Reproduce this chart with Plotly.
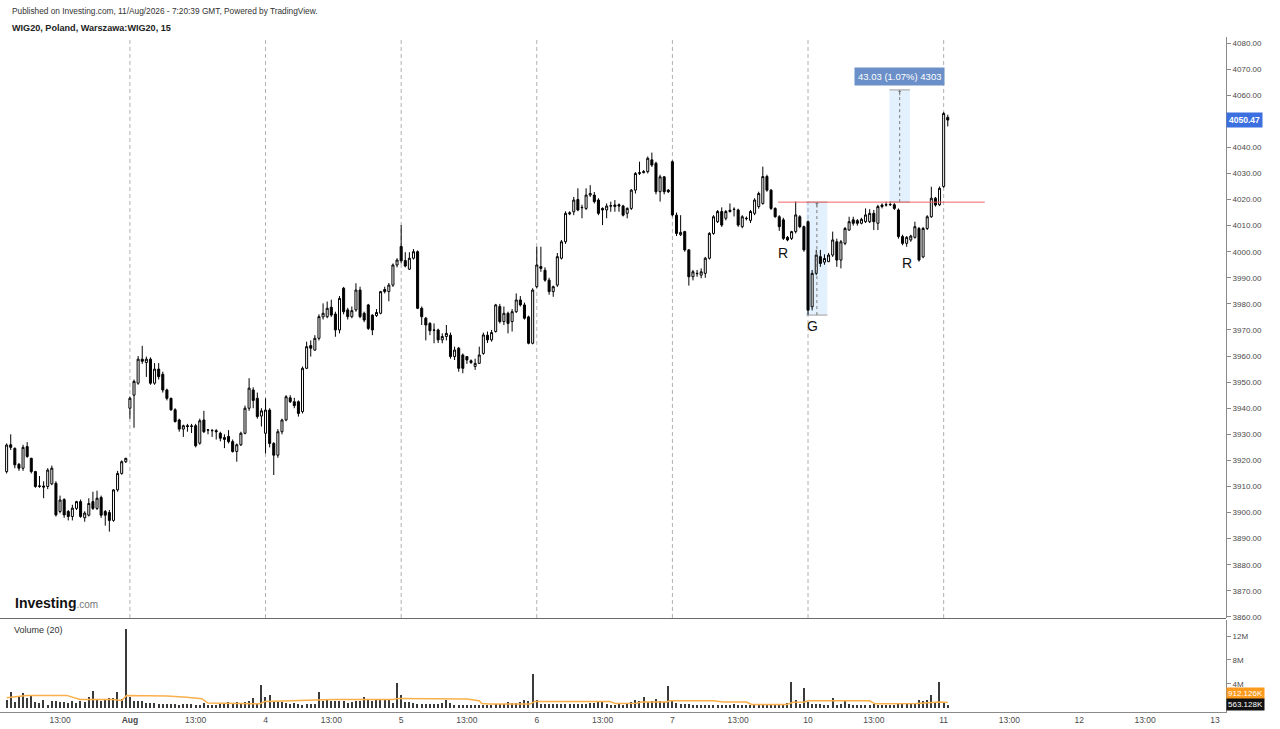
import plotly.graph_objects as go

# 15 minute bars, 33 per session, bar 0 = 31 Jul 09:00
bar = list(range(3, 233))

opens = [3915.7, 3926.0, 3924.6, 3918.5, 3917.0, 3925.3, 3920.8, 3915.7, 3910.0, 3910.2,
         3910.0, 3911.0, 3911.2, 3900.4, 3905.0, 3900.4, 3898.5, 3901.6, 3904.2, 3898.0,
         3899.0, 3904.2, 3901.6, 3905.8, 3900.4, 3900.0, 3897.0, 3908.7, 3915.0, 3919.5,
         3940.0, 3945.0, 3949.6, 3958.8, 3957.5, 3958.8, 3949.6, 3955.0, 3953.0, 3947.0,
         3943.8, 3939.4, 3935.5, 3932.0, 3933.3, 3933.0, 3933.3, 3926.6, 3935.5, 3931.6,
         3931.5, 3931.4, 3930.4, 3928.0, 3929.2, 3927.2, 3923.4, 3926.0, 3930.4, 3940.0,
         3947.0, 3943.8, 3937.0,
         3930.4, 3939.3, 3926.5, 3922.0, 3931.0, 3935.5, 3944.0, 3942.5, 3942.5, 3938.7,
         3955.3, 3964.0, 3962.3, 3966.8, 3975.0, 3975.1, 3978.7, 3976.1, 3970.0, 3986.0,
         3977.7, 3975.1, 3977.7, 3985.3, 3976.4, 3979.6, 3975.7, 3975.5, 3976.4, 3985.5,
         3984.7, 3987.2, 3994.9,
         4002.0, 3996.6, 3993.3, 3997.5, 4000.0, 3978.3, 3974.5, 3972.5, 3970.0, 3970.0,
         3966.2, 3967.5, 3968.0, 3959.8, 3963.0, 3960.4, 3959.8, 3958.2, 3956.0, 3957.2,
         3961.0, 3968.0, 3966.2, 3969.4, 3979.0, 3973.2, 3976.4, 3973.2, 3977.0, 3981.5,
         3979.6, 3975.0, 3964.9,
         3986.6, 3994.3, 3992.9, 3989.1, 3984.7, 3987.2, 3997.5, 4003.8, 4014.5, 4015.3,
         4020.0, 4017.0, 4016.6, 4021.7, 4021.7, 4019.8, 4016.6, 4016.0, 4017.5, 4017.3,
         4018.0, 4017.5, 4014.7, 4016.6, 4023.6, 4030.0, 4030.3, 4030.7, 4035.2, 4033.9,
         4023.0, 4028.7, 4023.6,
         4034.5, 4014.0, 4006.5, 4007.7, 4000.7, 3990.4, 3991.7, 3991.0, 3991.7, 3997.5,
         4007.0, 4011.5, 4015.4, 4012.8, 4015.4, 4016.3, 4016.0, 4009.6, 4012.8, 4012.0,
         4014.7, 4017.3, 4018.5, 4028.8, 4023.6, 4016.6, 4013.4, 4012.2, 4005.5, 4005.1,
         4007.7, 4013.4, 4009.6,
         4011.5, 3978.9, 3991.7, 3998.1, 3996.0, 3996.2, 3998.7, 4003.8, 3996.8, 4003.2,
         4008.3, 4012.2, 4011.9, 4010.9, 4011.5, 4011.5, 4014.7, 4010.9, 4017.3, 4017.9,
         4018.0, 4018.0, 4016.0, 4005.8, 4003.2, 4004.5, 4005.5, 4008.9, 3998.0, 4008.9,
         4013.4, 4020.5, 4018.0,
         4025.0, 4051.5]
highs = [3926.5, 3930.0, 3925.0, 3919.0, 3926.0, 3927.0, 3921.0, 3916.0, 3914.0, 3912.0,
         3917.0, 3918.0, 3912.0, 3906.5, 3905.5, 3901.0, 3903.0, 3904.5, 3905.0, 3900.5,
         3905.5, 3908.0, 3908.4, 3906.5, 3901.0, 3901.0, 3909.0, 3916.0, 3920.0, 3921.0,
         3944.5, 3951.0, 3960.0, 3963.9, 3959.8, 3959.5, 3957.3, 3957.3, 3954.0, 3947.5,
         3944.0, 3940.0, 3936.0, 3933.7, 3934.0, 3934.0, 3934.0, 3936.0, 3939.0, 3932.0,
         3932.0, 3932.0, 3931.0, 3930.0, 3931.6, 3928.0, 3926.5, 3931.0, 3941.0, 3951.5,
         3948.0, 3946.0, 3940.0,
         3943.8, 3940.0, 3927.0, 3932.0, 3936.0, 3945.0, 3945.0, 3944.0, 3943.0, 3956.0,
         3965.5, 3966.0, 3968.0, 3976.0, 3980.2, 3980.9, 3981.6, 3977.0, 3983.0, 3986.5,
         3978.5, 3979.0, 3987.9, 3986.6, 3977.0, 3980.0, 3976.0, 3978.0, 3985.0, 3986.6,
         3988.0, 3995.5, 3997.5,
         4010.2, 3999.8, 3999.8, 4001.0, 4000.5, 3979.0, 3975.0, 3973.0, 3972.5, 3970.5,
         3968.7, 3971.9, 3969.0, 3963.6, 3963.5, 3961.0, 3960.0, 3958.7, 3959.0, 3963.6,
         3969.0, 3969.4, 3970.0, 3980.0, 3980.0, 3979.0, 3977.0, 3978.0, 3984.0, 3983.0,
         3980.5, 3975.5, 3986.0,
         4001.9, 4001.9, 3994.0, 3990.0, 3987.0, 3999.5, 4004.5, 4015.5, 4015.5, 4021.0,
         4024.3, 4018.0, 4024.3, 4025.5, 4022.9, 4020.5, 4017.0, 4018.5, 4019.2, 4019.8,
         4018.5, 4018.0, 4017.0, 4024.0, 4030.5, 4034.5, 4031.3, 4036.5, 4038.0, 4034.5,
         4029.5, 4029.0, 4024.0,
         4035.0, 4015.0, 4014.0, 4008.0, 4001.0, 3993.0, 3993.0, 3993.6, 3998.0, 4007.5,
         4014.0, 4016.0, 4017.0, 4016.0, 4018.5, 4017.0, 4016.5, 4014.0, 4013.5, 4016.0,
         4020.5, 4023.0, 4032.6, 4029.5, 4024.0, 4017.0, 4014.0, 4013.0, 4006.0, 4008.0,
         4019.2, 4014.0, 4010.0,
         4012.0, 3993.0, 4000.7, 4000.7, 3999.0, 3999.5, 4007.7, 4005.0, 4004.5, 4009.5,
         4013.4, 4013.4, 4012.5, 4013.0, 4016.6, 4016.3, 4016.0, 4018.0, 4018.5, 4019.2,
         4019.2, 4018.6, 4016.6, 4006.5, 4006.0, 4006.5, 4011.5, 4009.5, 4009.5, 4014.0,
         4024.9, 4021.0, 4025.0,
         4053.5, 4052.5]
lows = [3915.0, 3924.0, 3917.0, 3916.0, 3916.0, 3921.0, 3915.0, 3909.5, 3909.5, 3905.5,
        3909.0, 3910.5, 3898.5, 3899.7, 3898.0, 3897.0, 3897.0, 3901.0, 3898.0, 3896.5,
        3898.5, 3901.0, 3901.0, 3898.0, 3895.0, 3892.7, 3896.5, 3908.0, 3914.5, 3919.0,
        3936.0, 3932.5, 3949.0, 3957.0, 3952.0, 3949.0, 3949.0, 3951.0, 3946.0, 3943.0,
        3939.0, 3934.5, 3931.0, 3929.0, 3931.0, 3930.5, 3925.0, 3926.0, 3930.5, 3930.0,
        3929.0, 3928.0, 3927.3, 3924.7, 3926.5, 3923.0, 3919.5, 3925.5, 3930.0, 3939.0,
        3940.0, 3936.0, 3933.0,
        3922.7, 3925.0, 3914.4, 3921.0, 3930.0, 3935.0, 3942.0, 3940.0, 3936.8, 3938.0,
        3955.0, 3959.8, 3962.0, 3966.0, 3974.0, 3974.5, 3975.0, 3967.4, 3968.7, 3976.0,
        3974.0, 3974.5, 3977.0, 3974.5, 3973.0, 3970.0, 3968.0, 3975.0, 3976.0, 3984.0,
        3981.0, 3986.5, 3994.0,
        3995.5, 3994.0, 3993.0, 3997.0, 3978.0, 3971.9, 3966.0, 3968.0, 3964.9, 3965.0,
        3964.9, 3966.0, 3959.0, 3958.5, 3954.0, 3953.4, 3957.0, 3957.0, 3954.7, 3957.0,
        3960.5, 3965.0, 3965.5, 3969.0, 3972.5, 3971.9, 3968.7, 3969.4, 3976.5, 3979.0,
        3974.0, 3964.5, 3964.5,
        3986.0, 3992.3, 3988.5, 3983.5, 3982.7, 3986.5, 3997.0, 4003.0, 4014.0, 4014.0,
        4015.5, 4012.8, 4016.0, 4021.0, 4018.5, 4014.0, 4010.2, 4012.8, 4015.3, 4015.3,
        4015.3, 4013.5, 4012.8, 4016.0, 4022.3, 4029.4, 4030.0, 4030.0, 4032.5, 4022.0,
        4019.2, 4022.0, 4022.5,
        4013.5, 4006.0, 4006.0, 4000.0, 3987.0, 3989.0, 3990.4, 3989.8, 3990.0, 3997.0,
        4006.5, 4011.0, 4009.5, 4012.0, 4015.0, 4013.5, 4009.5, 4009.0, 4012.0, 4011.0,
        4014.0, 4016.5, 4018.0, 4023.0, 4016.0, 4013.0, 4008.0, 4004.5, 4004.0, 4004.5,
        4007.0, 4009.0, 4000.0,
        3975.7, 3977.5, 3991.0, 3994.2, 3995.0, 3996.0, 3998.0, 3994.2, 3993.6, 4002.5,
        4008.0, 4010.0, 4010.0, 4010.5, 4011.0, 4011.0, 4008.3, 4008.3, 4016.6, 4017.3,
        4017.5, 4016.0, 4005.0, 4002.5, 4001.9, 4003.8, 4005.0, 3996.2, 3997.5, 4008.3,
        4013.0, 4017.3, 4017.5,
        4024.5, 4048.0]
closes = [3925.9, 3925.0, 3918.3, 3917.0, 3925.0, 3921.5, 3915.7, 3910.0, 3910.2, 3909.8,
          3916.3, 3917.0, 3899.1, 3904.8, 3899.1, 3898.5, 3901.7, 3904.2, 3898.5, 3899.8,
          3903.5, 3901.6, 3905.5, 3899.0, 3899.0, 3897.0, 3908.7, 3915.0, 3919.5, 3920.8,
          3943.8, 3950.3, 3958.8, 3958.0, 3958.8, 3949.6, 3955.0, 3952.1, 3947.0, 3943.8,
          3939.4, 3934.9, 3932.0, 3933.3, 3933.0, 3933.2, 3925.6, 3935.2, 3931.0, 3931.7,
          3931.4, 3931.0, 3928.5, 3928.8, 3927.2, 3923.4, 3926.0, 3930.4, 3940.0, 3947.7,
          3943.0, 3936.8, 3939.0,
          3939.3, 3926.5, 3922.0, 3931.0, 3935.5, 3944.4, 3942.5, 3941.0, 3938.0, 3955.3,
          3963.6, 3963.0, 3966.8, 3975.1, 3976.4, 3978.3, 3975.7, 3970.0, 3982.1, 3977.0,
          3975.1, 3977.4, 3985.3, 3975.1, 3973.8, 3970.6, 3970.0, 3976.7, 3984.7, 3984.7,
          3987.2, 3994.9, 3996.8,
          3996.5, 3994.5, 3997.5, 4000.0, 3978.3, 3975.1, 3971.9, 3969.7, 3969.9, 3966.2,
          3967.5, 3968.7, 3959.8, 3962.3, 3955.3, 3955.3, 3958.5, 3957.5, 3957.2, 3960.4,
          3968.1, 3966.2, 3969.0, 3979.6, 3973.2, 3976.4, 3972.5, 3977.0, 3981.5, 3979.6,
          3974.5, 3964.9, 3985.3,
          3994.9, 3993.6, 3989.1, 3984.7, 3986.6, 3998.1, 4003.8, 4014.7, 4014.9, 4019.8,
          4016.0, 4016.9, 4021.7, 4022.3, 4019.2, 4014.7, 4016.0, 4017.5, 4017.6, 4017.9,
          4017.5, 4014.0, 4016.6, 4023.6, 4030.0, 4030.3, 4030.7, 4035.8, 4033.2, 4023.0,
          4028.7, 4023.0, 4023.0,
          4014.1, 4007.0, 4007.4, 4000.7, 3990.4, 3992.3, 3991.6, 3992.3, 3997.5, 4007.0,
          4013.4, 4015.4, 4010.2, 4015.4, 4015.9, 4016.2, 4010.2, 4013.4, 4012.7, 4015.4,
          4019.8, 4022.3, 4028.8, 4023.6, 4016.6, 4013.4, 4009.6, 4005.1, 4004.5, 4007.7,
          4014.1, 4009.6, 4000.7,
          3977.6, 3991.7, 3998.7, 3995.5, 3997.4, 3998.7, 4004.5, 3996.8, 4003.8, 4008.9,
          4011.5, 4010.9, 4010.9, 4012.4, 4014.1, 4014.7, 4011.5, 4017.3, 4017.9, 4018.0,
          4018.1, 4016.6, 4005.8, 4003.2, 4005.5, 4006.0, 4009.6, 3996.8, 4008.9, 4013.4,
          4020.5, 4017.9, 4024.3,
          4053.0, 4050.47]

# volume in millions
volumes = [1.4, 2.7, 1.0, 1.8, 2.5, 1.6, 2.1, 1.0, 0.8, 1.4, 0.55, 1.1, 1.2, 1.0, 0.95,
           0.8, 1.1, 0.8, 1.1, 1.0, 1.8, 2.9, 1.4, 1.1, 1.4, 1.7, 1.7, 2.6, 1.5, 13.2,
           1.9, 1.2, 1.2, 1.1, 0.8, 0.8, 0.8, 0.7, 0.7, 0.65, 0.65, 0.65, 0.55, 0.65, 0.65,
           0.7, 0.45, 0.45, 0.8, 0.45, 0.45, 0.55, 0.65, 0.65, 0.95, 0.8, 0.95, 0.8, 1.0, 1.1,
           1.7, 0.8, 3.9,
           1.8, 2.1, 1.0, 1.0, 1.0, 0.8, 0.65, 0.8, 0.65, 0.55, 0.65, 0.65, 0.65, 2.7, 1.1,
           1.4, 1.1, 1.1, 1.2, 1.1, 0.8, 1.0, 1.1, 1.1, 1.9, 1.4, 1.2, 1.4, 1.4, 1.5,
           1.5, 0.8, 4.1,
           2.1, 1.0, 0.95, 0.8, 0.7, 0.7, 0.65, 0.7, 0.65, 0.65, 0.8, 1.4, 0.8, 0.55, 0.55,
           0.45, 0.45, 0.45, 0.45, 0.45, 0.45, 0.55, 0.55, 0.65, 0.65, 0.65, 1.0, 0.8, 0.8, 1.0,
           1.4, 1.1, 5.6,
           1.4, 0.65, 0.65, 0.65, 0.65, 0.65, 0.65, 0.65, 0.65, 0.65, 0.65, 0.65, 0.65, 0.8, 0.8,
           1.1, 1.0, 0.65, 0.55, 0.55, 0.8, 0.55, 0.65, 1.0, 1.4, 1.1, 1.8, 1.0, 1.1, 1.5,
           1.2, 1.0, 3.7,
           1.4, 0.8, 0.65, 0.65, 0.65, 0.45, 0.45, 0.45, 0.45, 0.45, 0.45, 0.45, 0.45, 0.45, 0.45,
           0.65, 0.45, 0.45, 0.45, 0.45, 0.45, 0.45, 0.65, 0.45, 0.65, 0.55, 0.65, 0.65, 0.8, 4.3,
           1.4, 0.65, 3.3,
           1.0, 0.65, 0.65, 0.65, 0.45, 0.45, 1.6, 0.45, 0.65, 1.1, 0.65, 0.55, 0.45, 0.45, 0.45,
           0.45, 0.65, 0.45, 0.45, 0.45, 0.45, 0.45, 0.65, 0.65, 0.65, 0.65, 0.65, 1.4, 1.2, 1.4,
           2.1, 0.8, 4.3,
           1.0, 0.563]

# volume moving average (20)
ma_bar = [3, 7.9, 17.6, 20.9, 29, 31, 32.2, 42, 46.8, 50.5, 52, 64.7, 65.9, 78.4, 82.4,
          97, 98.3, 115, 118, 118.6, 120.6, 130.3, 131.6, 149.8, 151, 156.3, 157.5, 163.6,
          164.4, 175, 177.4, 183, 184.3, 192.8, 194.4, 197.2, 198, 213, 214.3, 224.4, 226,
          230.1, 232]
ma_vals = [1.7, 2.1, 2.1, 1.4, 1.4, 1.25, 2.1, 2.0, 1.8, 1.55, 0.83, 0.7, 1.1, 1.25, 1.4,
           1.4, 1.6, 1.5, 1.2, 0.75, 0.65, 0.65, 1.1, 1.1, 0.75, 0.8, 1.0, 1.0,
           1.2, 1.2, 1.0, 1.0, 0.6, 0.6, 0.95, 1.0, 1.2, 1.2, 0.7, 0.75, 0.85,
           1.0, 0.912]

day_starts = [33, 66, 99, 132, 165, 198, 231]
tick_pos = [16, 33, 49, 66, 82, 99, 115, 132, 148, 165, 181, 198, 214, 231, 247, 264, 280, 297]
tick_text = ['13:00', '<b>Aug</b>', '13:00', '4', '13:00', '5', '13:00', '6', '13:00', '7',
             '13:00', '10', '13:00', '11', '13:00', '12', '13:00', '13']
# 4050 is hidden behind the last price label in the reference
price_ticks = [3860, 3870, 3880, 3890, 3900, 3910, 3920, 3930, 3940, 3950, 3960, 3970,
               3980, 3990, 4000, 4010, 4020, 4030, 4040, 4060, 4070, 4080]

# drawings on the chart
level = 4019.0
g_low = 3975.7
target = 4062.03

font = 'Arial, Liberation Sans, sans-serif'
axis_col = '#8a8a8a'
text_col = '#4a4a4a'

fig = go.Figure()
fig.add_trace(go.Candlestick(
    x=bar, open=opens, high=highs, low=lows, close=closes,
    increasing=dict(line=dict(color='black', width=1), fillcolor='white'),
    decreasing=dict(line=dict(color='black', width=1), fillcolor='black'),
    whiskerwidth=0, xaxis='x', yaxis='y'))
fig.add_trace(go.Bar(x=bar, y=volumes, marker_color='#3a3a3a', marker_line_width=0,
                     width=0.3, xaxis='x', yaxis='y2'))
fig.add_trace(go.Scatter(x=ma_bar, y=ma_vals, mode='lines',
                         line=dict(color='#f9b04a', width=1.5), xaxis='x', yaxis='y2'))

shapes = []
for d in day_starts:
    shapes.append(dict(type='line', xref='x', yref='y', x0=d, x1=d, y0=3859.6, y1=4082.3,
                       line=dict(color='#b0b0b0', width=1, dash='4px,3px'), layer='below'))
# measure boxes
for x0, x1, y0, y1 in [(197.6, 202.7, g_low, level), (217.8, 222.8, level, target)]:
    shapes.append(dict(type='rect', xref='x', yref='y', x0=x0, x1=x1, y0=y0, y1=y1,
                       fillcolor='rgba(33,150,243,0.13)', line_width=0, layer='below'))
    for yy in (y0, y1):
        shapes.append(dict(type='line', xref='x', yref='y', x0=x0, x1=x1, y0=yy, y1=yy,
                           line=dict(color='#9e9e9e', width=1)))
    xm = (x0 + x1) / 2
    shapes.append(dict(type='line', xref='x', yref='y', x0=xm, x1=xm, y0=y0, y1=y1,
                       line=dict(color='#7a7a7a', width=1, dash='3px,3px')))
shapes.append(dict(type='line', xref='x', yref='y', x0=190.7, x1=241, y0=level, y1=level,
                   line=dict(color='#ef6464', width=1)))
# pane separator
shapes.append(dict(type='line', xref='paper', yref='paper', x0=0, x1=1, y0=0.1385, y1=0.1385,
                   line=dict(color='#6a6a6a', width=1)))

annotations = [
    dict(text='Published on Investing.com, 11/Aug/2026 - 7:20:39 GMT, Powered by TradingView.',
         xref='paper', yref='paper', x=10 / 1226, y=1.0385, xanchor='left', yanchor='middle',
         showarrow=False, font=dict(family=font, size=8.3, color='#333')),
    dict(text='<b>WIG20, Poland, Warszawa:WIG20, 15</b>',
         xref='paper', yref='paper', x=10 / 1226, y=1.0133, xanchor='left', yanchor='middle',
         showarrow=False, font=dict(family=font, size=9.1, color='#222')),
    dict(text="<b>Investing</b><span style='font-size:10px;color:#777'>.com</span>",
         xref='paper', yref='paper', x=13 / 1226, y=0.161, xanchor='left', yanchor='middle',
         showarrow=False, font=dict(family=font, size=14, color='#111')),
    dict(text='Volume (20)', xref='paper', yref='paper', x=12 / 1226, y=0.1215,
         xanchor='left', yanchor='middle', showarrow=False,
         font=dict(family=font, size=9, color='#333')),
    dict(text='R', xref='x', yref='y', x=191.8, y=3999.5, showarrow=False,
         font=dict(family=font, size=14, color='#111')),
    dict(text='G', xref='x', yref='y', x=199.1, y=3971.5, showarrow=False,
         font=dict(family=font, size=14, color='#111')),
    dict(text='R', xref='x', yref='y', x=222.0, y=3995.7, showarrow=False,
         font=dict(family=font, size=14, color='#111')),
    dict(text='%.2f (%.2f%%) %d' % (target - level, (target - level) / level * 100, 4303),
         xref='x', yref='y', x=220.3, y=target, yshift=13, showarrow=False,
         bgcolor='#6b8fc8', borderpad=3, font=dict(family=font, size=9.5, color='white')),
    dict(text='<b>%.2f</b>' % closes[-1], xref='paper', yref='y', x=1, y=closes[-1],
         xanchor='left', showarrow=False, bgcolor='#3c6fe0', borderpad=2,
         font=dict(family=font, size=8.5, color='white')),
    dict(text='912.126K', xref='paper', yref='y2', x=1, y=0.912, yshift=9.5,
         xanchor='left', showarrow=False, bgcolor='#fb9a1c', borderpad=1,
         font=dict(family=font, size=8, color='white')),
    dict(text='563.128K', xref='paper', yref='y2', x=1, y=volumes[-1], yshift=0,
         xanchor='left', showarrow=False, bgcolor='#111', borderpad=1,
         font=dict(family=font, size=8, color='white')),
]
for xm, yt in [(200.15, level), (220.3, target)]:
    annotations.append(dict(x=xm, y=yt, xref='x', yref='y', ax=0, ay=7, text='',
                            showarrow=True, arrowhead=1, arrowsize=0.8, arrowwidth=0.8,
                            arrowcolor='#7a7a7a'))

fig.update_layout(
    width=1280, height=729,
    margin=dict(l=0, r=54, t=37, b=17),
    paper_bgcolor='white', plot_bgcolor='white',
    showlegend=False, bargap=0,
    xaxis=dict(range=[1.39, 299.7], tickvals=tick_pos, ticktext=tick_text,
               showgrid=False, zeroline=False, rangeslider=dict(visible=False),
               anchor='y2', showline=True, linecolor=axis_col, ticks='',
               tickfont=dict(family=font, size=8.5, color=text_col)),
    yaxis=dict(domain=[0.1393, 1], side='right', range=[3859.6, 4082.3],
               tickvals=price_ticks, tickformat='.2f', showgrid=False, zeroline=False,
               showline=True, linecolor=axis_col, ticks='outside', ticklen=4,
               tickcolor=axis_col, tickfont=dict(family=font, size=8, color=text_col),
               anchor='x'),
    yaxis2=dict(domain=[0, 0.1363], side='right', range=[-0.67, 14.67],
                tickvals=[4, 8, 12], ticktext=['4M', '8M', '12M'], showgrid=False,
                zeroline=False, showline=True, linecolor=axis_col, ticks='outside',
                ticklen=4, tickcolor=axis_col,
                tickfont=dict(family=font, size=8, color=text_col), anchor='x'),
    shapes=shapes, annotations=annotations,
)

# page body has an 8px default margin, drop it so the chart sits at 0,0
fig.write_html('out.html', config={'displayModeBar': False},
               post_script="document.body.style.margin = '0px';")
